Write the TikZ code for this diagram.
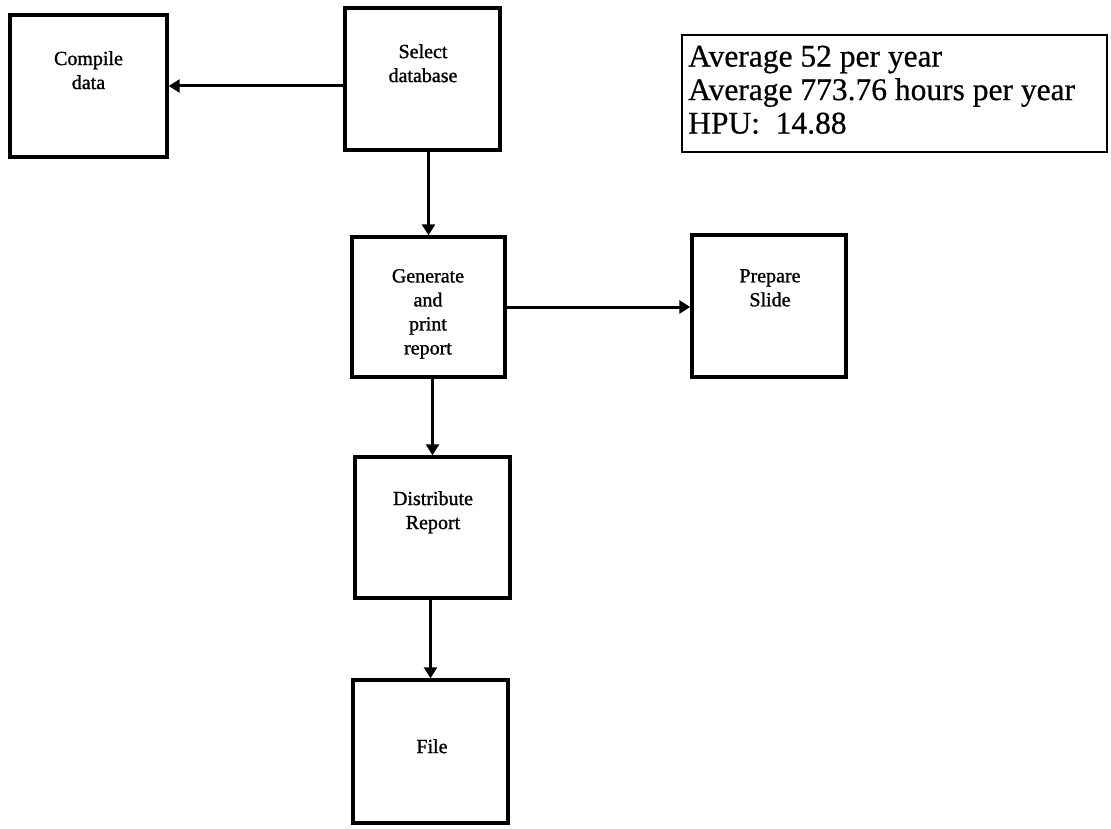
\documentclass[tikz,border=0pt]{standalone}
\usepackage{fontspec}
\setmainfont{Liberation Serif}
\usetikzlibrary{arrows.meta}
\begin{document}
\begin{tikzpicture}[x=1pt,y=-1pt,
  stepbox/.style={draw,rectangle,line width=3.4pt,inner sep=0pt},
  boxtext/.style={anchor=north,align=center,inner sep=0pt,
    font=\fontsize{20}{24}\selectfont\addfontfeature{FakeBold=1.2}},
  flow/.style={line width=3pt,-{Triangle[length=11pt,width=13pt]}}]
\useasboundingbox (0,0) rectangle (1111,829);

% process boxes
\node[stepbox,minimum width=157pt,minimum height=142pt] (cmp)  at (88.5,86) {};
\node[stepbox,minimum width=155pt,minimum height=142pt] (sel)  at (422.5,79) {};
\node[stepbox,minimum width=153pt,minimum height=140pt] (gen)  at (428.5,307) {};
\node[stepbox,minimum width=154pt,minimum height=142pt] (prep) at (769,306) {};
\node[stepbox,minimum width=155pt,minimum height=141pt] (dist) at (432.5,527.5) {};
\node[stepbox,minimum width=155pt,minimum height=143pt] (file) at (430.5,751.5) {};

% box labels
\node[boxtext] (cmpt)  at (88.5,51)  {Compile\\data};
\node[boxtext] (selt)  at (423,44)   {Select\\database};
\node[boxtext] (gent)  at (428,269)  {Generate\\and\\print\\report};
\node[boxtext] (prept) at (770,269)  {Prepare\\Slide};
\node[boxtext] (distt) at (433,491)  {Distribute\\Report};
\node[boxtext] (filet) at (432,739)  {File};

% statistics panel
\node[draw,rectangle,line width=2pt,minimum width=425pt,minimum height=117pt,
  inner sep=0pt] (stats) at (894.5,93.5) {};
\node[anchor=north west,align=left,inner sep=0pt,
  font=\fontsize{31.5}{33.5}\selectfont\addfontfeature{FakeBold=0.6}] (statst) at (688,45.5)
  {Average 52 per year\\Average 773.76 hours per year\\HPU:~~14.88};

% connectors
\draw[flow] (sel.west |- cmp.east) -- (cmp.east);
\draw[flow] (gen.north |- sel.south) -- (gen.north);
\draw[flow] (gen.east) -- (gen.east -| prep.west);
\draw[flow] (dist.north |- gen.south) -- (dist.north);
\draw[flow] (file.north |- dist.south) -- (file.north);
\end{tikzpicture}
\end{document}
